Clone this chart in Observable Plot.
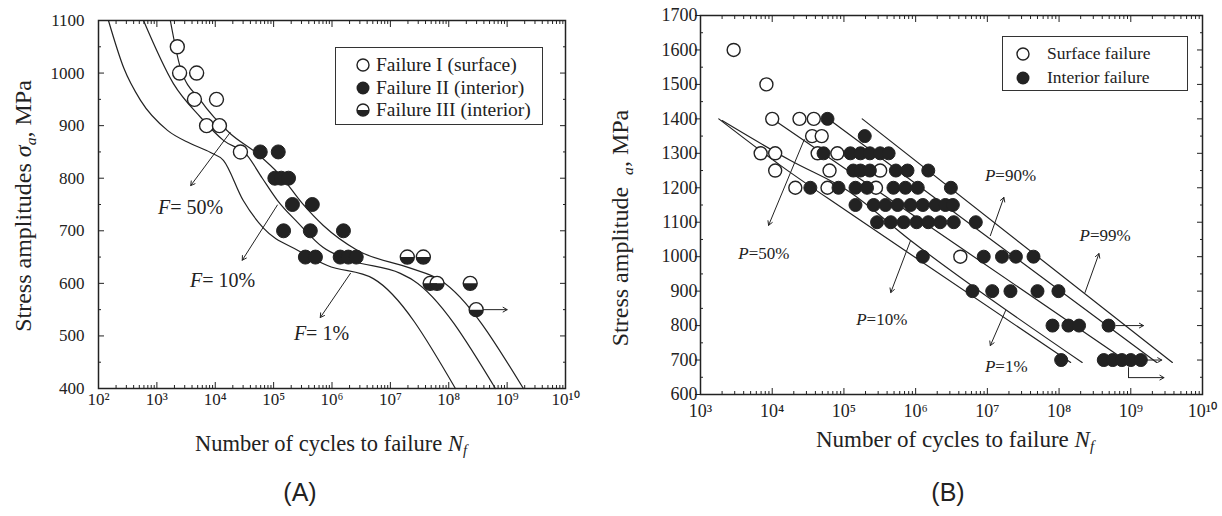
<!DOCTYPE html>
<html><head><meta charset="utf-8">
<script src="https://cdn.jsdelivr.net/npm/d3@7"></script>
<script src="https://cdn.jsdelivr.net/npm/@observablehq/plot@0.6"></script>
<style>
body{margin:0;background:#fff;}
#wrap{position:relative;width:1222px;height:516px;overflow:hidden;background:#fff;font-family:"Liberation Serif",serif;color:#222;}
#wrap svg.plot{position:absolute;top:0;}
.abs{position:absolute;white-space:nowrap;line-height:1;}
.rot{transform:translate(-50%,-50%) rotate(-90deg);}
.ctr{transform:translate(-50%,-50%);}
.legend{position:absolute;border:1.5px solid #333;background:#fff;box-sizing:border-box;}
.legend .row{position:absolute;left:0;white-space:nowrap;display:flex;align-items:center;line-height:1;}
.panel{font-family:"Liberation Sans",Arial,sans-serif;font-size:25px;}
sub{font-size:0.65em;vertical-align:-0.3em;}
</style></head><body><div id="wrap"></div>
<script>
// ---------- Panel A data ----------
const aSurfN = [2240, 2450, 4800, 4400, 10500, 7100, 11800, 27000];
const aSurfS = [1050, 1000, 1000, 950, 950, 900, 900, 850];
const aIntN = [59000, 120000, 105000, 135000, 180000, 210000, 460000, 148000, 425000, 1.57e6, 350000, 520000, 1.38e6, 1.9e6, 2.6e6];
const aIntS = [850, 850, 800, 800, 800, 750, 750, 700, 700, 700, 650, 650, 650, 650, 650];
const aHalfN = [1.95e7, 3.67e7, 4.8e7, 6.3e7, 2.33e8, 2.95e8];
const aHalfS = [650, 650, 600, 600, 600, 550];
const aF1N = [148, 270, 525, 1520, 3760, 8300, 13800, 30000, 67000, 257000, 835000, 5.1e6, 1.3e8];
const aF1S = [1100, 1010, 948, 891, 866, 849, 834, 758, 705, 663, 634, 609, 400];
const aF10N = [590, 1920, 5590, 13800, 35500, 64000, 116000, 257000, 710000, 2.07e6, 1.48e7, 2.45e7, 6.3e8];
const aF10S = [1100, 980, 916, 872, 843, 800, 758, 716, 668, 644, 619, 606, 400];
const aF50N = [1700, 2530, 5600, 18000, 52000, 131000, 310000, 710000, 2.7e6, 2.2e7, 7.2e7, 1.9e9];
const aF50S = [1100, 1010, 948, 885, 847, 805, 752, 710, 663, 629, 606, 400];
const aArrN1 = [1.8e4, 1.16e5, 2.07e6, 3.8e8], aArrS1 = [887, 749, 619, 550];
const aArrN2 = [3.8e3, 2.9e4, 6.3e5, 1.0e9], aArrS2 = [786, 644, 535, 550];
const aLabN = [1700, 6000, 3.6e5], aLabS = [745, 606, 505];
const aLabText = ["= 50%", "= 10%", "= 1%"];
const aYTicks = [400, 500, 600, 700, 800, 900, 1000, 1100];
const aYMinor = [450, 550, 650, 750, 850, 950, 1050];

// ---------- Panel B data ----------
const bSurfN = [2.9e3, 8.3e3, 1.0e4, 2.4e4, 3.8e4, 3.6e4, 4.9e4, 6.9e3, 1.1e4, 4.3e4, 8.1e4, 1.1e4, 6.3e4, 3.2e5, 2.1e4, 5.9e4, 2.8e5, 4.2e6];
const bSurfS = [1600, 1500, 1400, 1400, 1400, 1350, 1350, 1300, 1300, 1300, 1300, 1250, 1250, 1250, 1200, 1200, 1200, 1000];
const bIntN = [5.9e4, 1.95e5,
  5.2e4, 1.23e5, 1.7e5, 2.3e5, 3.2e5, 4.2e5,
  1.35e5, 1.7e5, 2.3e5, 5.3e5, 7.7e5, 1.5e6,
  3.4e4, 8.4e4, 1.45e5, 2.1e5, 4.9e5, 7.2e5, 1.07e6, 3.1e6,
  1.45e5, 2.6e5, 3.8e5, 5.6e5, 8.5e5, 1.26e6, 1.9e6, 2.6e6, 3.3e6,
  2.9e5, 4.5e5, 6.8e5, 1.03e6, 1.5e6, 2.2e6, 3.4e6, 6.9e6,
  1.26e6, 8.9e6, 1.6e7, 2.5e7, 4.4e7,
  6.2e6, 1.17e7, 2.1e7, 5.0e7, 9.8e7,
  8.1e7, 1.35e8, 1.9e8, 4.9e8,
  1.07e8, 4.2e8, 5.6e8, 7.5e8, 1.0e9, 1.38e9];
const bIntS = [1400, 1350,
  1300, 1300, 1300, 1300, 1300, 1300,
  1250, 1250, 1250, 1250, 1250, 1250,
  1200, 1200, 1200, 1200, 1200, 1200, 1200, 1200,
  1150, 1150, 1150, 1150, 1150, 1150, 1150, 1150, 1150,
  1100, 1100, 1100, 1100, 1100, 1100, 1100, 1100,
  1000, 1000, 1000, 1000, 1000,
  900, 900, 900, 900, 900,
  800, 800, 800, 800,
  700, 700, 700, 700, 700, 700];
const bP1N = [1.8e3, 1.3e4, 1.23e5, 1.45e8], bP1S = [1400, 1265, 1125, 693];
const bP10N = [2.0e3, 1.8e4, 1.12e5, 8.5e5, 2.1e8], bP10S = [1395, 1279, 1192, 1047, 693];
const bP50N = [1.0e4, 9.3e8], bP50S = [1400, 693];
const bP90N = [6.5e4, 2.3e9], bP90S = [1395, 693];
const bP99N = [1.8e5, 3.8e9], bP99S = [1400, 693];
const bArrN1 = [2.8e4, 8.5e5, 1.8e7, 1.1e7, 2.3e8, 6.2e8, 1.7e9, 9.3e8];
const bArrS1 = [1340, 1047, 844, 1061, 896, 800, 700, 649];
const bArrN2 = [8.9e3, 4.5e5, 1.1e7, 1.7e7, 3.6e8, 1.5e9, 2.7e9, 2.9e9];
const bArrS2 = [1091, 896, 742, 1172, 1009, 800, 700, 649];
const bBendN = [9.3e8, 9.3e8], bBendS = [678, 649];
const bLabN = [4.7e3, 2.07e5, 1.29e7, 1.29e7, 2.7e8], bLabS = [1009, 818, 681, 1236, 1062];
const bLabText = ["=50%", "=10%", "=1%", "=90%", "=99%"];
const bYTicks = [600, 700, 800, 900, 1000, 1100, 1200, 1300, 1400, 1500, 1600, 1700];
const bYMinor = [650, 750, 850, 950, 1050, 1150, 1250, 1350, 1450, 1550, 1650];

// ---------- helpers ----------
const zip = (xs, ys) => xs.map((x, i) => ({x, y: ys[i]}));
const arrows = (x1, y1, x2, y2) => x1.map((v, i) => ({x1: v, y1: y1[i], x2: x2[i], y2: y2[i]}));
const labels = (xs, ys, ts) => xs.map((x, i) => ({x, y: ys[i], t: ts[i]}));
const sup = n => String(n).split("").map(c => "⁰¹²³⁴⁵⁶⁷⁸⁹"[+c]).join("");
const logFmt = d => "10" + sup(Math.round(Math.log10(d)));
const decades = (a, b) => d3.range(a, b + 1).map(k => 10 ** k);
const minors = (a, b) => d3.range(a, b).flatMap(k => d3.range(2, 10).map(m => m * 10 ** k));
const halfSymbol = {draw(ctx, size) { const r = Math.sqrt(size / Math.PI); ctx.moveTo(r, 0); ctx.arc(0, 0, r, 0, Math.PI); ctx.closePath(); }};
const INK = "#222";

function axes(xMaj, xMin, yMaj, yMin, yPad, xPad, leftOut) {
  const blank = () => "";
  return [
    Plot.axisX(xMaj, {anchor: "bottom", tickSize: -6, tickFormat: blank, label: null, stroke: INK}),
    Plot.axisX(xMin, {anchor: "bottom", tickSize: -3, tickFormat: blank, label: null, stroke: INK}),
    Plot.axisX(xMaj, {anchor: "top", tickSize: -6, tickFormat: blank, label: null, stroke: INK}),
    Plot.axisX(xMin, {anchor: "top", tickSize: -3, tickFormat: blank, label: null, stroke: INK}),
    Plot.axisY(yMaj, {anchor: "left", tickSize: leftOut ? 5 : -6, tickFormat: blank, label: null, stroke: INK}),
    Plot.axisY(yMin, {anchor: "left", tickSize: -3, tickFormat: blank, label: null, stroke: INK}),
    Plot.axisY(yMaj, {anchor: "right", tickSize: -6, tickFormat: blank, label: null, stroke: INK}),
    Plot.axisY(yMin, {anchor: "right", tickSize: -3, tickFormat: blank, label: null, stroke: INK}),
    Plot.axisX(xMaj, {anchor: "bottom", tickSize: 0, tickPadding: xPad, tickFormat: logFmt, label: null, fill: INK}),
    Plot.axisY(yMaj, {anchor: "left", tickSize: 0, tickPadding: yPad, tickFormat: d => String(d), label: null, fill: INK}),
    Plot.frame({stroke: INK, strokeWidth: 1.5})
  ];
}

// ---------- Panel A ----------
const plotA = Plot.plot({
  width: 600, height: 460,
  marginLeft: 98, marginRight: 35, marginTop: 20, marginBottom: 72,
  x: {type: "log", domain: [1e2, 1e10], axis: null, label: null},
  y: {domain: [400, 1100], axis: null, label: null},
  style: {fontFamily: "Liberation Serif, serif", fontSize: "17px", color: INK, background: "transparent"},
  marks: [
    ...axes(decades(2, 10), minors(2, 10), aYTicks, aYMinor, 14, 4, false),
    Plot.line(zip(aF1N, aF1S), {x: "x", y: "y", curve: "monotone-x", stroke: INK, strokeWidth: 1.2}),
    Plot.line(zip(aF10N, aF10S), {x: "x", y: "y", curve: "monotone-x", stroke: INK, strokeWidth: 1.2}),
    Plot.line(zip(aF50N, aF50S), {x: "x", y: "y", curve: "monotone-x", stroke: INK, strokeWidth: 1.2}),
    Plot.arrow(arrows(aArrN1, aArrS1, aArrN2, aArrS2), {x1: "x1", y1: "y1", x2: "x2", y2: "y2", stroke: INK, strokeWidth: 1, headLength: 7}),
    Plot.dot(zip(aSurfN, aSurfS), {x: "x", y: "y", r: 7, fill: "white", stroke: INK, strokeWidth: 1.4}),
    Plot.dot(zip(aIntN, aIntS), {x: "x", y: "y", r: 7, fill: INK, stroke: INK, strokeWidth: 1}),
    Plot.dot(zip(aHalfN, aHalfS), {x: "x", y: "y", r: 7, fill: "white", stroke: INK, strokeWidth: 1.4}),
    Plot.dot(zip(aHalfN, aHalfS), {x: "x", y: "y", r: 7, symbol: halfSymbol, fill: INK, stroke: "none"}),
    Plot.text(labels(aLabN, aLabS, aLabText), {x: "x", y: "y", text: () => "F", textAnchor: "end", fontStyle: "italic", fontSize: 20, fill: INK}),
    Plot.text(labels(aLabN, aLabS, aLabText), {x: "x", y: "y", text: "t", textAnchor: "start", fontSize: 20, fill: INK})
  ]
});
plotA.classList.add("plot");
plotA.style.left = "0px";

// ---------- Panel B ----------
const plotB = Plot.plot({
  width: 622, height: 460,
  marginLeft: 100, marginRight: 20, marginTop: 15, marginBottom: 66,
  x: {type: "log", domain: [1e3, 1e10], axis: null, label: null},
  y: {domain: [600, 1700], axis: null, label: null},
  style: {fontFamily: "Liberation Serif, serif", fontSize: "18px", color: INK, background: "transparent"},
  marks: [
    ...axes(decades(3, 10), minors(3, 10), bYTicks, bYMinor, 3, 10, true),
    Plot.line(zip(bP1N, bP1S), {x: "x", y: "y", curve: "monotone-x", stroke: INK, strokeWidth: 1.2}),
    Plot.line(zip(bP10N, bP10S), {x: "x", y: "y", curve: "monotone-x", stroke: INK, strokeWidth: 1.2}),
    Plot.line(zip(bP50N, bP50S), {x: "x", y: "y", stroke: INK, strokeWidth: 1.2}),
    Plot.line(zip(bP90N, bP90S), {x: "x", y: "y", stroke: INK, strokeWidth: 1.2}),
    Plot.line(zip(bP99N, bP99S), {x: "x", y: "y", stroke: INK, strokeWidth: 1.2}),
    Plot.line(zip(bBendN, bBendS), {x: "x", y: "y", stroke: INK, strokeWidth: 1}),
    Plot.arrow(arrows(bArrN1, bArrS1, bArrN2, bArrS2), {x1: "x1", y1: "y1", x2: "x2", y2: "y2", stroke: INK, strokeWidth: 1, headLength: 7}),
    Plot.dot(zip(bSurfN, bSurfS), {x: "x", y: "y", r: 6.5, fill: "white", stroke: INK, strokeWidth: 1.4}),
    Plot.dot(zip(bIntN, bIntS), {x: "x", y: "y", r: 6.5, fill: INK, stroke: INK, strokeWidth: 1}),
    Plot.text(labels(bLabN, bLabS, bLabText), {x: "x", y: "y", text: () => "P", textAnchor: "end", fontStyle: "italic", fontSize: 17, fill: INK}),
    Plot.text(labels(bLabN, bLabS, bLabText), {x: "x", y: "y", text: "t", textAnchor: "start", fontSize: 17, fill: INK})
  ]
});
plotB.classList.add("plot");
plotB.style.left = "600px";

const wrap = document.getElementById("wrap");
wrap.append(plotA, plotB);

// ---------- HTML text: titles, legends, panel tags ----------
function addDiv(html, cls, left, top, size) {
  const d = document.createElement("div");
  d.className = "abs " + cls;
  d.style.left = left + "px"; d.style.top = top + "px";
  if (size) d.style.fontSize = size + "px";
  d.innerHTML = html;
  wrap.append(d);
  return d;
}
addDiv('Stress amplitudes <i>σ</i><sub><i>a</i></sub>, MPa', "rot", 25, 206, 24);
addDiv('Number of cycles to failure <i>N</i><sub><i>f</i></sub>', "ctr", 331, 445, 22.5);
addDiv('Stress amplitude &nbsp;<sub><i>a</i></sub>, MPa', "rot", 622, 228, 24);
addDiv('Number of cycles to failure <i>N</i><sub><i>f</i></sub>', "ctr", 955, 441, 23);
addDiv('(A)', "ctr panel", 300, 492);
addDiv('(B)', "ctr panel", 948, 492);

const markerSvg = type => {
  if (type === "open") return '<svg width="16" height="16"><circle cx="8" cy="8" r="6" fill="white" stroke="#222" stroke-width="1.4"/></svg>';
  if (type === "filled") return '<svg width="16" height="16"><circle cx="8" cy="8" r="6.5" fill="#222"/></svg>';
  return '<svg width="16" height="16"><circle cx="8" cy="8" r="6" fill="white" stroke="#222" stroke-width="1.4"/><path d="M2,8 A6,6 0 0 0 14,8 Z" fill="#222"/></svg>';
};
function legend(left, top, w, h, items, rowTops, markLeft, gap, size) {
  const L = document.createElement("div");
  L.className = "legend";
  Object.assign(L.style, {left: left + "px", top: top + "px", width: w + "px", height: h + "px", fontSize: size + "px"});
  items.forEach(([type, label], i) => {
    const r = document.createElement("div");
    r.className = "row";
    r.style.top = rowTops[i] + "px";
    r.style.left = markLeft + "px";
    r.innerHTML = markerSvg(type) + '<span style="margin-left:' + gap + 'px">' + label + '</span>';
    L.append(r);
  });
  wrap.append(L);
}
legend(335, 47, 208, 78, [["open", "Failure I (surface)"], ["filled", "Failure II (interior)"], ["half", "Failure III (interior)"]], [7, 30, 52], 19, 5, 19.5);
legend(1002, 36, 186, 55, [["open", "Surface failure"], ["filled", "Interior failure"]], [8, 32], 12, 16, 17.5);
</script>
</body></html>
